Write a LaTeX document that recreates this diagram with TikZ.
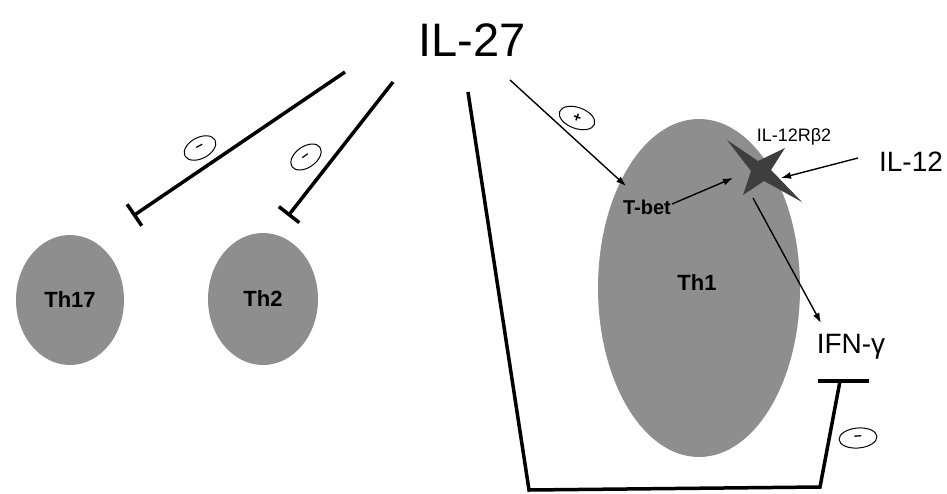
\documentclass[tikz,border=0pt]{standalone}
\usepackage{fontspec}
\setmainfont{Liberation Sans}
\usetikzlibrary{arrows.meta,shapes.geometric}
\definecolor{cellgray}{RGB}{142,142,142}
\definecolor{stargray}{RGB}{62,62,62}
\begin{document}
\begin{tikzpicture}[x=1pt,y=-1pt,
  cell/.style={ellipse,fill=cellgray,inner sep=0pt,font=\fontsize{22}{22}\selectfont\bfseries},
  inhib/.style={line width=3.5pt,-{Bar[width=26pt,line width=3.5pt]}},
  act/.style={line width=1.4pt,-{Latex[length=10pt,width=7pt]}},
  sign/.style={ellipse,draw,line width=1pt,minimum width=34pt,minimum height=21pt,inner sep=0pt,font=\fontsize{14}{14}\selectfont\bfseries}
]
\useasboundingbox (0,0) rectangle (947,493);
% cells
\node[cell,minimum width=108pt,minimum height=130pt] (th17) at (70,300) {Th17};
\node[cell,minimum width=110pt,minimum height=132pt] (th2) at (263,299) {Th2};
\node[cell,minimum width=202pt,minimum height=338pt] (th1) at (699,288) {};
\node[font=\fontsize{22}{22}\selectfont\bfseries] (th1lab) at (697,283) {Th1};
% star receptor
\fill[stargray] (727,140) -- (758,161) -- (785,148) -- (771,170) -- (802,202) -- (764,181) -- (743,195) -- (751,171) -- cycle;
\coordinate (star) at (762,170);
% texts
\node[font=\fontsize{47}{47}\selectfont] (il27) at (472,40) {IL-27};
\node[font=\fontsize{28}{28}\selectfont] (il12) at (911,162) {IL-12};
\node[font=\fontsize{18}{18}\selectfont] (il12r) at (794,137) {IL-12Rβ2};
\node[font=\fontsize{20}{20}\selectfont\bfseries] (tbet) at (647,207) {T-bet};
\node[font=\fontsize{28}{28}\selectfont] (ifng) at (851,347) {IFN-γ};
% coordinates
\coordinate (a1) at (345,72);
\coordinate (a2) at (133,216);
\coordinate (b1) at (393,82);
\coordinate (b2) at (288,216);
\coordinate (c1) at (468,92);
\coordinate (c2) at (529,490);
\coordinate (c3) at (820,487);
\coordinate (c4) at (840,381);
\coordinate (bl) at (818,381);
\coordinate (br) at (869,381);
\coordinate (p1) at (510,80);
\coordinate (p2) at (626,186);
\coordinate (s1) at (858,158);
\coordinate (s2) at (781,178);
\coordinate (t1) at (672,204);
\coordinate (t2) at (733,178);
\coordinate (f1) at (753,198);
\coordinate (f2) at (821,323);
% inhibitions
\draw[inhib] (a1) -- (a2);
\draw[inhib] (b1) -- (b2);
\draw[line width=3.5pt,line join=miter] (c1) -- (c2) -- (c3) -- (c4);
\draw[line width=4pt] (bl) -- (br);
% activations
\draw[act] (p1) -- (p2);
\draw[act] (s1) -- (s2);
\draw[act] (t1) -- (t2);
\draw[act] (f1) -- (f2);
% signs
\node[sign,rotate=28] (m1) at (200,148) {–};
\node[sign,rotate=35] (m2) at (306,157) {–};
\node[sign,rotate=5,minimum width=38pt,minimum height=20pt] (m3) at (858,438) {–};
\node[sign,rotate=-20,minimum width=37pt] (pl) at (577,118) {+};
\end{tikzpicture}
\end{document}
